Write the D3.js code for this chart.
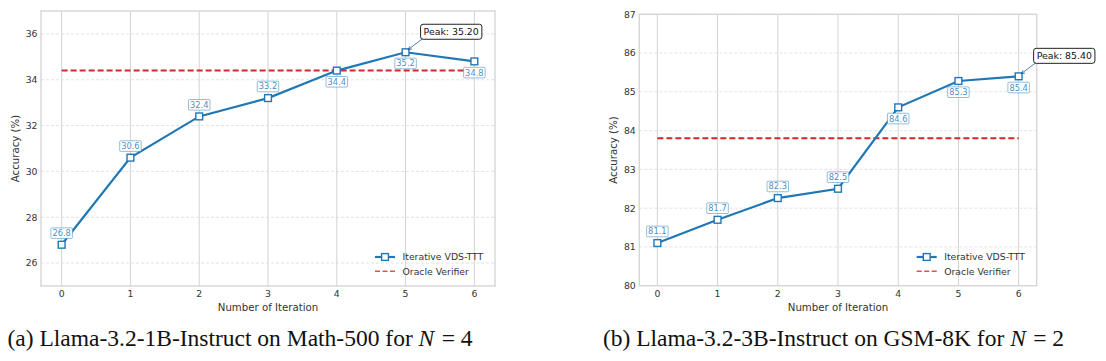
<!DOCTYPE html>
<html>
<head>
<meta charset="utf-8">
<script src="https://cdn.jsdelivr.net/npm/d3@7"></script>
<style>
  body { margin: 0; background: #fff; }
  svg { display: block; }
</style>
</head>
<body>
<svg id="chart" width="1106" height="361"></svg>
<script>
// data
var iterations = [0, 1, 2, 3, 4, 5, 6];
var mathAcc = [26.8, 30.6, 32.4, 33.2, 34.4, 35.2, 34.8];
var gsmAcc = [81.1, 81.7, 82.26, 82.5, 84.6, 85.28, 85.4];
var mathOracle = 34.4;
var gsmOracle = 83.8;
var mathTicks = [26, 28, 30, 32, 34, 36];
var gsmTicks = [80, 81, 82, 83, 84, 85, 86, 87];
var seriesName = "Iterative VDS-TTT";
var oracleName = "Oracle Verifier";

var blue = "#1f77b4", red = "#d62728";
var font = "DejaVu Sans";

var svg = d3.select("#chart");

var drawPanel = function(cfg)
{
    var g = svg.append("g");
    var x = d3.scaleLinear().domain([-0.3, 6.3]).range([cfg.left, cfg.right]);
    var y = d3.scaleLinear().domain(cfg.yDomain).range([cfg.bottom, cfg.top]);

    // grid
    g.selectAll(".vgrid").data(iterations).enter().append("line")
        .attr("x1", function(d) { return x(d) }).attr("x2", function(d) { return x(d) })
        .attr("y1", cfg.top).attr("y2", cfg.bottom)
        .attr("stroke", "#d3d3d3").attr("stroke-width", 1);
    g.selectAll(".hgrid").data(cfg.ticks).enter().append("line")
        .attr("x1", cfg.left).attr("x2", cfg.right)
        .attr("y1", function(d) { return y(d) }).attr("y2", function(d) { return y(d) })
        .attr("stroke", "#dcdcdc").attr("stroke-width", 0.8).attr("stroke-dasharray", "3,2");

    // frame
    g.append("rect").attr("x", cfg.left).attr("y", cfg.top)
        .attr("width", cfg.right - cfg.left).attr("height", cfg.bottom - cfg.top)
        .attr("fill", "none").attr("stroke", "#d6d6d6").attr("stroke-width", 1.4);

    // tick labels
    g.selectAll(".yt").data(cfg.ticks).enter().append("text")
        .attr("x", cfg.left - 3.5).attr("y", function(d) { return y(d) })
        .attr("dy", "0.36em").attr("text-anchor", "end")
        .attr("font-family", font).attr("font-size", 9.3).attr("fill", "#333")
        .text(function(d) { return d });
    g.selectAll(".xt").data(iterations).enter().append("text")
        .attr("x", function(d) { return x(d) }).attr("y", cfg.bottom + 10.8)
        .attr("text-anchor", "middle")
        .attr("font-family", font).attr("font-size", 9.3).attr("fill", "#333")
        .text(function(d) { return d });

    // axis titles
    g.append("text").attr("x", (cfg.left + cfg.right) / 2).attr("y", 310.5)
        .attr("text-anchor", "middle").attr("font-family", font).attr("font-size", 10.2)
        .attr("fill", "#333").text("Number of Iteration");
    g.append("text")
        .attr("transform", "translate(" + cfg.ylabX + "," + ((cfg.top + cfg.bottom) / 2) + ") rotate(-90)")
        .attr("text-anchor", "middle").attr("font-family", font).attr("font-size", 10.2)
        .attr("fill", "#333").text("Accuracy (%)");

    // oracle line
    g.append("line").attr("x1", x(0)).attr("x2", x(6))
        .attr("y1", y(cfg.oracle)).attr("y2", y(cfg.oracle))
        .attr("stroke", red).attr("stroke-width", 2).attr("stroke-dasharray", "6,3");

    // series
    var pts = iterations.map(function(it, i) { return {it: it, v: cfg.values[i]} });
    var line = d3.line().x(function(d) { return x(d.it) }).y(function(d) { return y(d.v) });
    g.append("path").datum(pts).attr("d", line)
        .attr("fill", "none").attr("stroke", blue).attr("stroke-width", 2.2);
    g.selectAll(".mk").data(pts).enter().append("rect")
        .attr("x", function(d) { return x(d.it) - 3.4 }).attr("y", function(d) { return y(d.v) - 3.4 })
        .attr("width", 6.8).attr("height", 6.8)
        .attr("fill", "#fff").attr("stroke", blue).attr("stroke-width", 1.4);

    // value labels
    pts.forEach(function(d, i)
    {
        var dy = i < 4 ? -11.6 : 11.2;
        var cx = x(d.it), cy = y(d.v) + dy;
        var lab = g.append("g");
        var t = lab.append("text").attr("x", cx).attr("y", cy).attr("dy", "0.36em")
            .attr("text-anchor", "middle").attr("font-family", font).attr("font-size", 8.3)
            .attr("fill", blue).attr("fill-opacity", 0.85).text(d.v.toFixed(1));
        var bb = t.node().getBBox();
        lab.insert("rect", "text").attr("x", bb.x - 1.5).attr("y", cy - 5.3)
            .attr("width", bb.width + 3).attr("height", 10.6).attr("rx", 1)
            .attr("fill", "#fff").attr("stroke", blue).attr("stroke-opacity", 0.6).attr("stroke-width", 0.8);
    });

    // peak annotation
    var peak = d3.max(cfg.values);
    var pk = pts[cfg.values.indexOf(peak)];
    var px = x(pk.it), py = y(pk.v);
    var ann = g.append("g");
    var pt = ann.append("text").attr("x", px + 18).attr("y", py - 20.5).attr("dy", "0.36em")
        .attr("font-family", font).attr("font-size", 9.4).attr("fill", "#111")
        .text("Peak: " + peak.toFixed(2));
    var pb = pt.node().getBBox();
    ann.insert("rect", "text").attr("x", pb.x - 3).attr("y", py - 28)
        .attr("width", pb.width + 6).attr("height", 15).attr("rx", 2.5)
        .attr("fill", "#fff").attr("stroke", "#222").attr("stroke-width", 1);
    var ax0 = pb.x - 1, ay0 = py - 13.5, ax1 = px + 2.5, ay1 = py - 2.5;
    ann.append("line").attr("x1", ax0).attr("y1", ay0).attr("x2", ax1).attr("y2", ay1)
        .attr("stroke", "#2b5d8a").attr("stroke-width", 0.8);
    var ang = Math.atan2(ay1 - ay0, ax1 - ax0);
    var hl = 4;
    ann.append("path")
        .attr("d", "M" + (ax1 - hl * Math.cos(ang - 0.45)) + "," + (ay1 - hl * Math.sin(ang - 0.45)) +
            "L" + ax1 + "," + ay1 +
            "L" + (ax1 - hl * Math.cos(ang + 0.45)) + "," + (ay1 - hl * Math.sin(ang + 0.45)))
        .attr("fill", "none").attr("stroke", "#2b5d8a").attr("stroke-width", 0.8);

    // legend
    var lx = cfg.legX, ly = 257;
    g.append("line").attr("x1", lx).attr("x2", lx + 20).attr("y1", ly).attr("y2", ly)
        .attr("stroke", blue).attr("stroke-width", 2.2);
    g.append("rect").attr("x", lx + 10 - 3.4).attr("y", ly - 3.4).attr("width", 6.8).attr("height", 6.8)
        .attr("fill", "#fff").attr("stroke", blue).attr("stroke-width", 1.4);
    g.append("line").attr("x1", lx).attr("x2", lx + 20).attr("y1", ly + 14.3).attr("y2", ly + 14.3)
        .attr("stroke", red).attr("stroke-width", 1.6).attr("stroke-opacity", 0.8).attr("stroke-dasharray", "5,2.5");
    g.append("text").attr("x", lx + 27.5).attr("y", ly).attr("dy", "0.36em")
        .attr("font-family", font).attr("font-size", 9.3).attr("fill", "#333").text(seriesName);
    g.append("text").attr("x", lx + 27.5).attr("y", ly + 14.3).attr("dy", "0.36em")
        .attr("font-family", font).attr("font-size", 9.3).attr("fill", "#333").text(oracleName);

    // caption
    var cap = svg.append("text").attr("x", cfg.capX).attr("y", 345.5)
        .attr("text-anchor", "middle").attr("font-family", "Liberation Serif")
        .attr("font-size", 23.5).attr("fill", "#111");
    cap.append("tspan").text(cfg.caption + "\u00a0");
    cap.append("tspan").attr("font-style", "italic").text("N");
    cap.append("tspan").attr("dx", 1.5).text("\u00a0=\u00a0" + cfg.n);
}

drawPanel({left: 41, right: 495, top: 11, bottom: 286, yDomain: [25, 37],
    values: mathAcc, oracle: mathOracle, ticks: mathTicks, ylabX: 19, legX: 375,
    capX: 240, caption: "(a) Llama-3.2-1B-Instruct on Math-500 for", n: 4});
drawPanel({left: 639.3, right: 1036.7, top: 14.3, bottom: 285.7, yDomain: [80, 87],
    values: gsmAcc, oracle: gsmOracle, ticks: gsmTicks, ylabX: 617, legX: 916.7,
    capX: 833.5, caption: "(b) Llama-3.2-3B-Instruct on GSM-8K for", n: 2});
</script>
</body>
</html>
